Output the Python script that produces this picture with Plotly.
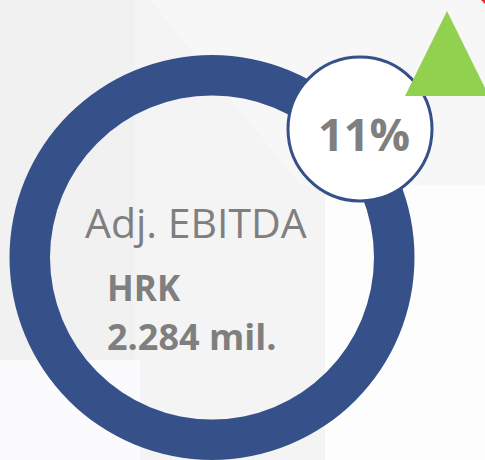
import plotly.graph_objects as go

# ---- data ----
metric_label = ["Adj. EBITDA"]
metric_value = [2284]          # HRK mil.
currency = "HRK"
value_text = "2.284 mil."
growth_pct = [11]              # %

W, H = 485, 460
RING = "#36508a"
GRAY = "#7f7f7f"
FONT = "Open Sans"

fig = go.Figure()

# invisible anchor trace for the pixel-like cartesian frame
fig.add_trace(go.Scatter(x=[0, W], y=[0, H], mode="markers",
                         marker=dict(opacity=0), hoverinfo="skip", showlegend=False))

# ring (donut) – single full slice
cx, cy, r = 212, 257.5, 202.5
fig.add_trace(go.Pie(
    labels=metric_label, values=metric_value, hole=0.8, sort=False,
    marker=dict(colors=[RING], line=dict(width=0)),
    textinfo="none", hoverinfo="skip", showlegend=False,
    domain=dict(x=[(cx - r) / W, (cx + r) / W], y=[(H - cy - r) / H, (H - cy + r) / H]),
))

shapes = [
    # background panels
    dict(type="path", path="M150,0 L485,0 L485,185 L300,185 Z",
         fillcolor="#f7f7f7", line=dict(width=0), layer="below"),
    dict(type="rect", x0=0, x1=135, y0=0, y1=360,
         fillcolor="#f1f1f1", line=dict(width=0), layer="below"),
    dict(type="rect", x0=0, x1=140, y0=360, y1=460,
         fillcolor="#fbfbfd", line=dict(width=0), layer="below"),
    dict(type="rect", x0=325, x1=485, y0=185, y1=460,
         fillcolor="#fdfdfd", line=dict(width=0), layer="below"),
    # growth badge
    dict(type="circle", x0=288, x1=432, y0=57, y1=201,
         fillcolor="white", line=dict(color=RING, width=3), layer="above"),
    # green up triangle
    dict(type="path", path="M447,11 L489,96 L405,96 Z",
         fillcolor="#92d050", line=dict(width=0), layer="above"),
    # small red corner mark
    dict(type="path", path="M481,0 L485,0 L485,4 Z",
         fillcolor="#ff2020", line=dict(width=0), layer="above"),
]

annotations = [
    dict(x=364, y=133, text=f"<b>{growth_pct[0]}%</b>", showarrow=False,
         font=dict(family=FONT, size=45, color=GRAY), xanchor="center", yanchor="middle"),
    dict(x=196, y=222, text=metric_label[0], showarrow=False,
         font=dict(family=FONT, size=41, color=GRAY), xanchor="center", yanchor="middle"),
    dict(x=105, y=287, text=f"<b>{currency}</b>", showarrow=False,
         font=dict(family=FONT, size=35, color=GRAY), xanchor="left", yanchor="middle"),
    dict(x=105, y=336, text=f"<b>{value_text}</b>", showarrow=False,
         font=dict(family=FONT, size=36, color=GRAY), xanchor="left", yanchor="middle"),
]

fig.update_layout(
    width=W, height=H, margin=dict(l=0, r=0, t=0, b=0),
    paper_bgcolor="#f4f4f4", plot_bgcolor="#f4f4f4",
    xaxis=dict(range=[0, W], visible=False, fixedrange=True),
    yaxis=dict(range=[H, 0], visible=False, fixedrange=True),
    shapes=shapes, annotations=annotations, showlegend=False,
)

fig.write_html("out.html", config={"displayModeBar": False},
               post_script="document.body.style.margin='0';document.body.style.overflow='hidden';")
